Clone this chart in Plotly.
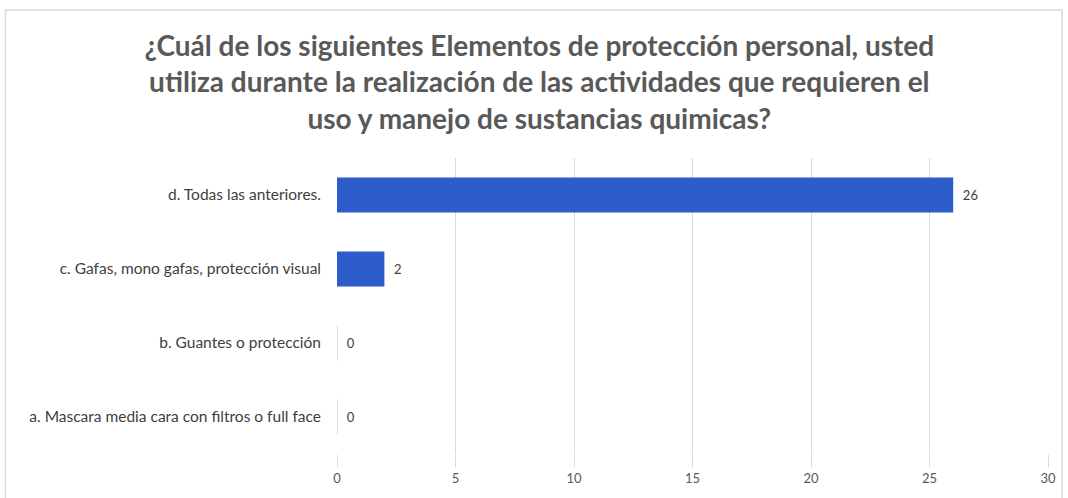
import plotly.graph_objects as go

categories = [
    "a. Mascara media cara con filtros o full face",
    "b. Guantes o protección",
    "c. Gafas, mono gafas, protección visual",
    "d. Todas las anteriores.",
]
values = [0, 0, 2, 26]
x_ticks = [0, 5, 10, 15, 20, 25, 30]

title_text = ("¿Cuál de los siguientes Elementos de protección personal, usted<br>"
              "utiliza durante la realización de las actividades que requieren el<br>"
              "uso y manejo de sustancias quimicas?")

W, H = 1068, 498
L, R, T, B = 337, 19, 158, 42

fig = go.Figure(go.Bar(
    x=values, y=categories, orientation="h",
    marker=dict(color="#2C5DCB", line=dict(color="#D0D0D0", width=[1, 1, 0, 0])),
    width=0.47,
    texttemplate="  %{x}", textposition="outside",
    textfont=dict(family="Lato", size=13, color="#404040"),
    cliponaxis=False,
))

pw = W - L - R
ph = H - T - B
def px_x(p): return (p - L) / pw
def px_y(p): return (H - B - p) / ph

fig.update_layout(
    width=W, height=H,
    margin=dict(l=L, r=R, t=T, b=B),
    plot_bgcolor="white", paper_bgcolor="white",
    showlegend=False,
    title=dict(text=title_text, x=0.505, xanchor="center", y=1 - 56 / H, yanchor="top",
               font=dict(family="Lato", size=28, color="#595959", weight="bold")),
    xaxis=dict(range=[0, 30], tickvals=x_ticks, showgrid=True, gridcolor="#D9D9D9",
               gridwidth=1, zeroline=False, ticks="outside", ticklen=12,
               tickcolor="#D9D9D9", tickfont=dict(family="Lato", size=13, color="#595959"),
               showline=False),
    yaxis=dict(showgrid=False, zeroline=False, ticks="", ticklabelstandoff=15,
               tickfont=dict(family="Lato", size=15.5, color="#404040"), showline=False),
    shapes=[dict(type="rect", xref="paper", yref="paper",
                 x0=px_x(5), x1=px_x(1063), y0=px_y(520), y1=px_y(9),
                 line=dict(color="#D9D9D9", width=1.5), fillcolor="rgba(0,0,0,0)", layer="below")],
)

fig.write_html("out.html", config={"displayModeBar": False},
               post_script="document.body.style.margin='0';document.body.style.overflow='hidden';")
